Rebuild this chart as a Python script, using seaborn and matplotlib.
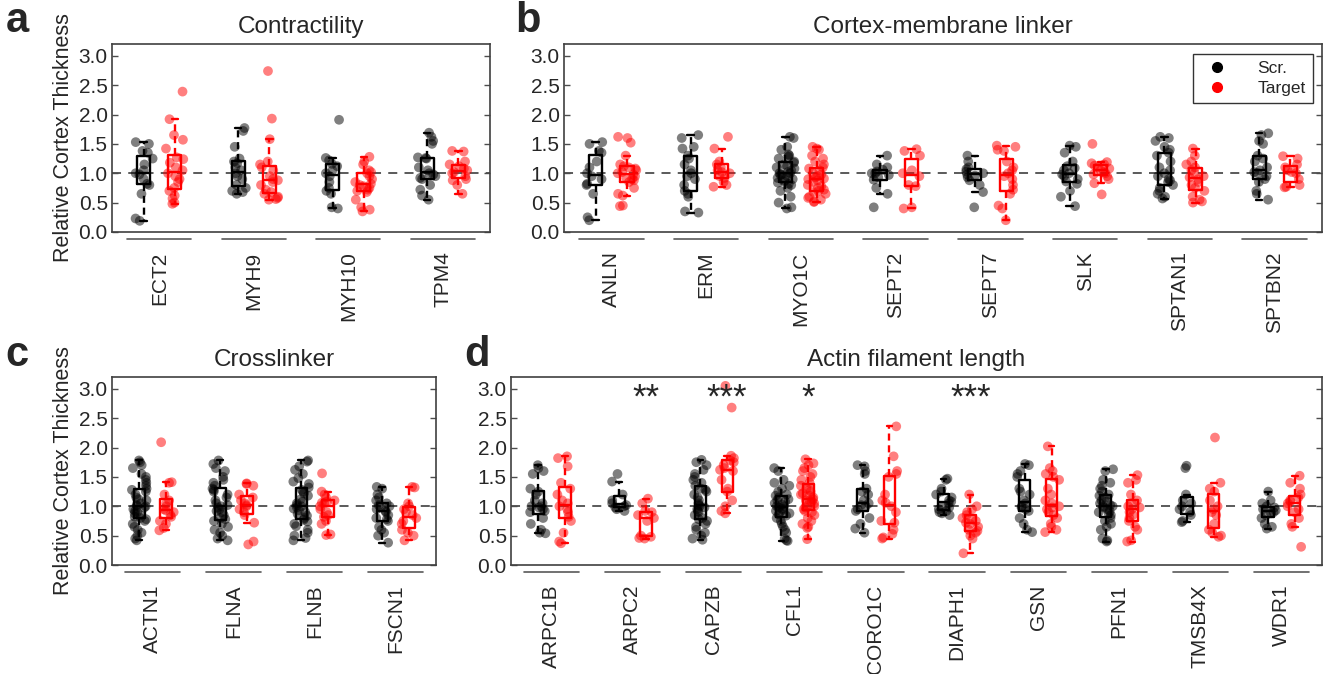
import numpy as np
import pandas as pd
import seaborn as sns
import matplotlib.pyplot as plt
from matplotlib.lines import Line2D
from matplotlib.transforms import blended_transform_factory

# Datos
# a - Contractility
genes_a = ["ECT2", "MYH9", "MYH10", "TPM4"]
ect2_scr = [1.53, 1.50, 1.38, 1.35, 1.25, 1.15, 1.05, 1.00, 0.98, 0.90, 0.82, 0.80, 0.65, 0.23, 0.19]
ect2_tgt = [2.39, 1.92, 1.65, 1.57, 1.42, 1.27, 1.24, 1.18, 1.10, 1.05, 1.00, 0.95, 0.90, 0.85, 0.75, 0.70, 0.62, 0.57, 0.50, 0.48]
myh9_scr = [1.77, 1.72, 1.45, 1.25, 1.20, 1.17, 1.10, 1.05, 1.00, 0.95, 0.90, 0.80, 0.75, 0.70, 0.68, 0.65]
myh9_tgt = [2.74, 1.93, 1.58, 1.20, 1.15, 1.10, 1.05, 0.95, 0.90, 0.88, 0.85, 0.80, 0.72, 0.68, 0.65, 0.60, 0.58, 0.56, 0.55]
myh10_scr = [1.91, 1.26, 1.22, 1.16, 1.12, 1.05, 1.00, 0.95, 0.85, 0.75, 0.70, 0.65, 0.42, 0.40]
myh10_tgt = [1.28, 1.20, 1.15, 1.05, 1.02, 1.00, 0.95, 0.90, 0.85, 0.82, 0.80, 0.78, 0.75, 0.72, 0.70, 0.68, 0.55, 0.42, 0.38, 0.35]
tpm4_scr = [1.69, 1.62, 1.55, 1.50, 1.27, 1.26, 1.25, 1.10, 1.05, 1.00, 0.98, 0.95, 0.92, 0.90, 0.80, 0.72, 0.62, 0.55]
tpm4_tgt = [1.38, 1.37, 1.20, 1.15, 1.12, 1.08, 1.05, 1.02, 1.00, 0.95, 0.90, 0.88, 0.80, 0.65]

# b - Cortex-membrane linker
genes_b = ["ANLN", "ERM", "MYO1C", "SEPT2", "SEPT7", "SLK", "SPTAN1", "SPTBN2"]
anln_scr = [1.53, 1.50, 1.38, 1.35, 1.20, 1.10, 1.00, 0.95, 0.90, 0.82, 0.80, 0.65, 0.25, 0.20]
anln_tgt = [1.62, 1.60, 1.52, 1.30, 1.15, 1.12, 1.10, 1.08, 1.05, 1.02, 1.00, 0.98, 0.95, 0.92, 0.90, 0.88, 0.85, 0.75, 0.65, 0.62, 0.45, 0.44]
erm_scr = [1.65, 1.60, 1.45, 1.42, 1.30, 1.25, 1.15, 1.05, 1.00, 0.95, 0.90, 0.80, 0.70, 0.65, 0.60, 0.35, 0.33]
erm_tgt = [1.62, 1.42, 1.20, 1.15, 1.10, 1.05, 1.02, 1.00, 0.95, 0.92, 0.85, 0.80, 0.77]
myo1c_scr = [1.62, 1.60, 1.45, 1.40, 1.32, 1.30, 1.28, 1.25, 1.20, 1.18, 1.15, 1.12, 1.10, 1.08, 1.05, 1.02, 1.00,
             1.00, 0.98, 0.97, 0.95, 0.92, 0.90, 0.88, 0.86, 0.84, 0.82, 0.80, 0.75, 0.70, 0.60, 0.50, 0.42, 0.40]
myo1c_tgt = [1.45, 1.42, 1.40, 1.30, 1.25, 1.20, 1.15, 1.10, 1.08, 1.05, 1.00, 0.98, 0.95, 0.93, 0.91, 0.90, 0.88,
             0.85, 0.80, 0.78, 0.75, 0.72, 0.70, 0.68, 0.65, 0.60, 0.58, 0.55, 0.52, 0.51]
sept2_scr = [1.30, 1.15, 1.10, 1.06, 1.03, 1.00, 1.00, 0.97, 0.93, 0.89, 0.75, 0.65, 0.42]
sept2_tgt = [1.41, 1.38, 1.30, 1.05, 1.00, 0.95, 0.80, 0.78, 0.42, 0.40]
sept7_scr = [1.30, 1.20, 1.10, 1.07, 1.03, 1.00, 0.98, 0.96, 0.93, 0.88, 0.80, 0.68, 0.42]
sept7_tgt = [1.47, 1.45, 1.40, 1.38, 1.20, 1.10, 1.05, 1.00, 0.95, 0.90, 0.80, 0.72, 0.65, 0.45, 0.40, 0.20]
slk_scr = [1.47, 1.45, 1.35, 1.20, 1.12, 1.09, 1.05, 1.00, 0.98, 0.95, 0.90, 0.86, 0.82, 0.70, 0.60, 0.44]
slk_tgt = [1.50, 1.19, 1.17, 1.15, 1.13, 1.10, 1.08, 1.05, 1.02, 1.00, 0.98, 0.95, 0.90, 0.83, 0.64]
sptan1_scr = [1.62, 1.60, 1.55, 1.45, 1.40, 1.35, 1.30, 1.20, 1.10, 1.05, 1.00, 0.95, 0.90, 0.88, 0.85, 0.80,
              0.75, 0.70, 0.65, 0.60, 0.57]
sptan1_tgt = [1.42, 1.30, 1.20, 1.15, 1.10, 1.05, 1.00, 0.95, 0.93, 0.90, 0.85, 0.80, 0.75, 0.70, 0.60, 0.55, 0.52, 0.50]
sptbn2_scr = [1.68, 1.65, 1.55, 1.50, 1.30, 1.25, 1.20, 1.10, 1.05, 1.02, 1.00, 0.95, 0.90, 0.85, 0.70, 0.65, 0.55]
sptbn2_tgt = [1.29, 1.25, 1.15, 1.10, 1.05, 1.02, 1.00, 0.90, 0.80, 0.77, 0.76]

# c - Crosslinker
genes_c = ["ACTN1", "FLNA", "FLNB", "FSCN1"]
actn1_scr = [1.78, 1.75, 1.70, 1.65, 1.55, 1.50, 1.45, 1.40, 1.35, 1.30, 1.28, 1.25, 1.20, 1.15, 1.12, 1.10, 1.05,
             1.02, 1.00, 1.00, 0.98, 0.95, 0.92, 0.90, 0.88, 0.85, 0.82, 0.80, 0.78, 0.75, 0.70, 0.65, 0.60, 0.55,
             0.50, 0.45, 0.42]
actn1_tgt = [2.09, 1.41, 1.40, 1.20, 1.10, 1.05, 1.00, 0.95, 0.93, 0.90, 0.85, 0.82, 0.75, 0.70, 0.63, 0.59]
flna_scr = [1.78, 1.72, 1.65, 1.60, 1.50, 1.45, 1.40, 1.35, 1.30, 1.28, 1.25, 1.20, 1.15, 1.10, 1.05, 1.02, 1.00,
            0.98, 0.95, 0.92, 0.90, 0.85, 0.80, 0.78, 0.75, 0.70, 0.65, 0.60, 0.55, 0.50, 0.45, 0.42]
flna_tgt = [1.39, 1.38, 1.35, 1.20, 1.15, 1.10, 1.05, 1.02, 1.00, 0.95, 0.90, 0.85, 0.72, 0.40, 0.35]
flnb_scr = [1.78, 1.76, 1.68, 1.62, 1.55, 1.48, 1.42, 1.38, 1.32, 1.28, 1.25, 1.22, 1.18, 1.12, 1.08, 1.05, 1.02,
            1.00, 0.98, 0.96, 0.93, 0.90, 0.87, 0.84, 0.80, 0.77, 0.74, 0.70, 0.66, 0.60, 0.55, 0.50, 0.46, 0.42]
flnb_tgt = [1.56, 1.25, 1.20, 1.15, 1.10, 1.08, 1.06, 1.05, 1.00, 0.95, 0.90, 0.85, 0.82, 0.75, 0.70, 0.52, 0.51]
fscn1_scr = [1.33, 1.30, 1.20, 1.15, 1.10, 1.05, 1.02, 1.00, 0.98, 0.95, 0.92, 0.90, 0.85, 0.80, 0.78, 0.75, 0.65,
             0.60, 0.55, 0.50, 0.38]
fscn1_tgt = [1.33, 1.32, 1.05, 1.00, 0.95, 0.90, 0.85, 0.80, 0.75, 0.70, 0.60, 0.55, 0.50, 0.42]

# d - Actin filament length
genes_d = ["ARPC1B", "ARPC2", "CAPZB", "CFL1", "CORO1C", "DIAPH1", "GSN", "PFN1", "TMSB4X", "WDR1"]
arpc1b_scr = [1.70, 1.65, 1.60, 1.55, 1.30, 1.25, 1.20, 1.10, 1.05, 1.00, 1.00, 0.98, 0.95, 0.92, 0.90, 0.80,
              0.70, 0.60, 0.55, 0.54]
arpc1b_tgt = [1.85, 1.82, 1.68, 1.40, 1.30, 1.20, 1.10, 1.05, 1.00, 0.95, 0.90, 0.82, 0.75, 0.55, 0.40, 0.37]
arpc2_scr = [1.55, 1.42, 1.20, 1.10, 1.05, 1.02, 1.00, 0.98, 0.95, 0.92]
arpc2_tgt = [1.13, 1.05, 0.92, 0.90, 0.85, 0.80, 0.75, 0.50, 0.48, 0.46, 0.45]
capzb_scr = [1.79, 1.75, 1.70, 1.62, 1.55, 1.50, 1.45, 1.40, 1.35, 1.30, 1.28, 1.25, 1.20, 1.15, 1.10, 1.05, 1.02,
             1.00, 0.98, 0.95, 0.92, 0.90, 0.85, 0.80, 0.78, 0.75, 0.70, 0.65, 0.60, 0.55, 0.50, 0.45, 0.43]
capzb_tgt = [3.05, 2.68, 1.86, 1.82, 1.78, 1.75, 1.70, 1.65, 1.62, 1.60, 1.45, 1.30, 1.25, 1.10, 1.00, 0.92, 0.88]
cfl1_scr = [1.65, 1.60, 1.45, 1.40, 1.35, 1.30, 1.25, 1.20, 1.18, 1.15, 1.12, 1.10, 1.08, 1.05, 1.03, 1.00, 1.00,
            0.98, 0.96, 0.94, 0.92, 0.90, 0.88, 0.86, 0.84, 0.80, 0.75, 0.70, 0.65, 0.60, 0.55, 0.45, 0.42, 0.41]
cfl1_tgt = [1.80, 1.73, 1.70, 1.65, 1.60, 1.55, 1.50, 1.45, 1.40, 1.35, 1.30, 1.28, 1.25, 1.22, 1.20, 1.18, 1.15,
            1.12, 1.10, 1.10, 1.08, 1.05, 1.02, 1.00, 0.98, 0.95, 0.92, 0.90, 0.85, 0.80, 0.75, 0.70, 0.65, 0.63, 0.44]
coro1c_scr = [1.70, 1.68, 1.60, 1.55, 1.30, 1.25, 1.20, 1.10, 1.05, 1.02, 1.00, 0.95, 0.92, 0.80, 0.70, 0.62, 0.55]
coro1c_tgt = [2.36, 1.85, 1.60, 1.55, 1.50, 1.20, 1.10, 1.06, 1.00, 0.90, 0.75, 0.72, 0.60, 0.53, 0.47, 0.45]
diaph1_scr = [1.47, 1.45, 1.30, 1.25, 1.20, 1.15, 1.10, 1.08, 1.05, 1.00, 0.98, 0.95, 0.92, 0.90, 0.88, 0.85]
diaph1_tgt = [1.20, 1.00, 0.95, 0.90, 0.85, 0.80, 0.78, 0.75, 0.72, 0.70, 0.65, 0.60, 0.58, 0.55, 0.50, 0.45, 0.20]
gsn_scr = [1.72, 1.70, 1.60, 1.55, 1.50, 1.30, 1.25, 1.20, 1.10, 1.05, 1.00, 0.98, 0.95, 0.92, 0.80, 0.70, 0.60, 0.56]
gsn_tgt = [2.02, 1.65, 1.60, 1.55, 1.50, 1.45, 1.30, 1.20, 1.10, 1.05, 1.00, 0.98, 0.95, 0.90, 0.85, 0.80, 0.70,
           0.65, 0.60, 0.56]
pfn1_scr = [1.63, 1.60, 1.45, 1.40, 1.35, 1.30, 1.25, 1.20, 1.18, 1.15, 1.10, 1.08, 1.05, 1.02, 1.00, 1.00, 0.98,
            0.95, 0.92, 0.90, 0.88, 0.85, 0.80, 0.75, 0.70, 0.65, 0.60, 0.45, 0.42, 0.40]
pfn1_tgt = [1.53, 1.45, 1.40, 1.20, 1.10, 1.05, 1.00, 0.98, 0.95, 0.90, 0.85, 0.80, 0.75, 0.65, 0.60, 0.42, 0.40]
tmsb4x_scr = [1.69, 1.65, 1.20, 1.10, 1.05, 1.00, 0.95, 0.90, 0.85, 0.75, 0.73]
tmsb4x_tgt = [2.17, 1.40, 1.30, 1.25, 1.10, 1.00, 0.95, 0.90, 0.85, 0.70, 0.60, 0.55, 0.50, 0.48]
wdr1_scr = [1.25, 1.10, 1.05, 1.00, 0.98, 0.95, 0.93, 0.90, 0.88, 0.85, 0.80, 0.70, 0.65, 0.62]
wdr1_tgt = [1.52, 1.40, 1.30, 1.20, 1.15, 1.10, 1.08, 1.05, 1.00, 0.95, 0.90, 0.80, 0.70, 0.65, 0.31]

# significancia (panel d)
star_genes = ["ARPC2", "CAPZB", "CFL1", "DIAPH1"]
star_labels = ["**", "***", "*", "***"]

sns.set_style("white")
plt.rcParams["font.family"] = ["Liberation Sans", "DejaVu Sans"]
np.random.seed(7)

colores = {"Scr.": "black", "Target": "red"}
off = 0.165


def panel(ax, genes, scr, tgt, titulo, ylabel=True, stars=None):
    filas = []
    for i, g in enumerate(genes):
        for v in scr[i]:
            filas.append((g, "Scr.", i - off, v))
        for v in tgt[i]:
            filas.append((g, "Target", i + off, v))
    df = pd.DataFrame(filas, columns=["gene", "cond", "xpos", "value"])

    ax.axhline(1.0, color="0.3", ls=(0, (5, 4)), lw=1.3, zorder=0)
    sns.stripplot(data=df, x="xpos", y="value", hue="cond", native_scale=True, dodge=False,
                  jitter=0.3, palette=colores, alpha=0.5, size=7, linewidth=0,
                  legend=False, ax=ax, zorder=1)
    sns.boxplot(data=df, x="xpos", y="value", hue="cond", native_scale=True, dodge=False,
                fill=False, width=0.42, palette=colores, showfliers=False, linewidth=1.7,
                whiskerprops={"linestyle": (0, (3, 2))}, legend=False, ax=ax)

    n = len(genes)
    ax.set_xlim(-0.5, n - 0.5)
    ax.set_ylim(0, 3.2)
    ax.set_xticks(range(n))
    ax.set_xticklabels(genes, rotation=90, fontsize=15)
    ax.set_yticks([0, 0.5, 1, 1.5, 2, 2.5, 3])
    ax.set_yticklabels(["0.0", "0.5", "1.0", "1.5", "2.0", "2.5", "3.0"], fontsize=15)
    ax.tick_params(axis="x", length=0, pad=14)
    ax.tick_params(axis="y", direction="in", left=True, right=True, length=4, width=1, color="0.3", pad=3)
    ax.set_xlabel("")
    ax.set_ylabel("Relative Cortex Thickness" if ylabel else "", fontsize=15.5, labelpad=3)
    ax.set_title(titulo, fontsize=17.5, pad=8)
    for s in ax.spines.values():
        s.set_color("0.25")
        s.set_linewidth(1.2)

    # lineas de grupo bajo el eje
    trans = blended_transform_factory(ax.transData, ax.transAxes)
    for i in range(n):
        ax.plot([i - 0.34, i + 0.34], [-0.035, -0.035], transform=trans, color="0.35",
                lw=1.2, clip_on=False)

    if stars is not None:
        for g, s in zip(*stars):
            ax.text(genes.index(g) + off, 2.84, s, ha="center", va="center", fontsize=25)


fig = plt.figure(figsize=(13.29, 6.74), dpi=100)
ax_a = fig.add_axes([0.0843, 0.6558, 0.2844, 0.2789])
ax_b = fig.add_axes([0.4244, 0.6558, 0.5704, 0.2789])
ax_c = fig.add_axes([0.0843, 0.1617, 0.2438, 0.2789])
ax_d = fig.add_axes([0.3845, 0.1617, 0.6102, 0.2789])

panel(ax_a, genes_a, [ect2_scr, myh9_scr, myh10_scr, tpm4_scr],
      [ect2_tgt, myh9_tgt, myh10_tgt, tpm4_tgt], "Contractility")
panel(ax_b, genes_b,
      [anln_scr, erm_scr, myo1c_scr, sept2_scr, sept7_scr, slk_scr, sptan1_scr, sptbn2_scr],
      [anln_tgt, erm_tgt, myo1c_tgt, sept2_tgt, sept7_tgt, slk_tgt, sptan1_tgt, sptbn2_tgt],
      "Cortex-membrane linker", ylabel=False)
panel(ax_c, genes_c, [actn1_scr, flna_scr, flnb_scr, fscn1_scr],
      [actn1_tgt, flna_tgt, flnb_tgt, fscn1_tgt], "Crosslinker")
panel(ax_d, genes_d,
      [arpc1b_scr, arpc2_scr, capzb_scr, cfl1_scr, coro1c_scr, diaph1_scr, gsn_scr, pfn1_scr, tmsb4x_scr, wdr1_scr],
      [arpc1b_tgt, arpc2_tgt, capzb_tgt, cfl1_tgt, coro1c_tgt, diaph1_tgt, gsn_tgt, pfn1_tgt, tmsb4x_tgt, wdr1_tgt],
      "Actin filament length", ylabel=False, stars=(star_genes, star_labels))

# leyenda
handles = [Line2D([], [], marker="o", ls="", color="black", markersize=7, label="Scr."),
           Line2D([], [], marker="o", ls="", color="red", markersize=7, label="Target")]
leg = ax_b.legend(handles=handles, loc="upper right", fontsize=12.5, frameon=True, fancybox=False,
                  edgecolor="0.2", framealpha=1, handletextpad=1.3, borderaxespad=0.55,
                  labelspacing=0.3, borderpad=0.4)
leg.get_frame().set_linewidth(1.0)

# letras de panel
for letra, x, y in [("a", 0.004, 0.953), ("b", 0.388, 0.953), ("c", 0.004, 0.457), ("d", 0.349, 0.457)]:
    fig.text(x, y, letra, fontsize=30, fontweight="bold", va="baseline")

plt.savefig("out.png", dpi=100)
